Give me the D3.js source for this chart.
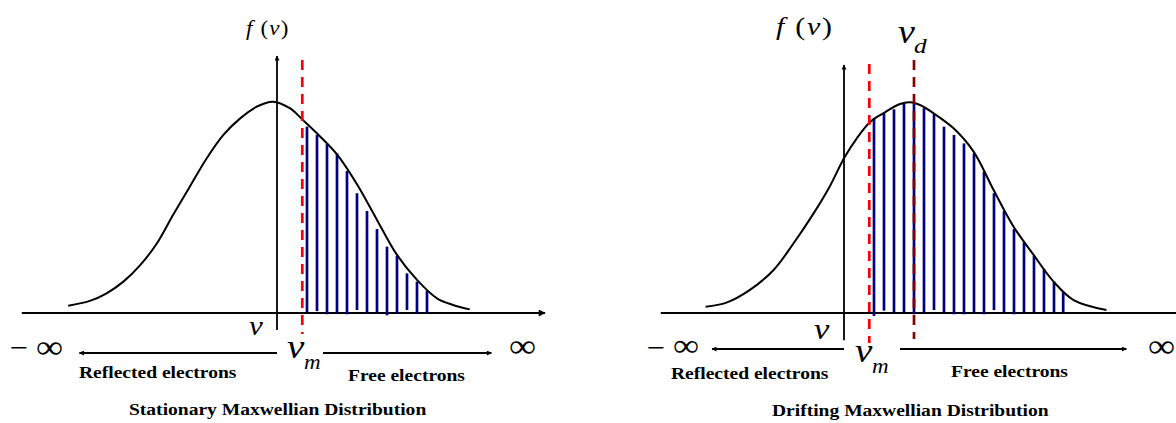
<!DOCTYPE html>
<html>
<head>
<meta charset="utf-8">
<script src="https://cdn.jsdelivr.net/npm/d3@7"></script>
<style>
  html, body { margin: 0; padding: 0; background: #fff; }
  svg { display: block; }
</style>
</head>
<body>
<svg id="chart" width="1176" height="423"></svg>
<script>
// ---- Stationary Maxwellian: sampled curve f(v) (peak normalised to 1) ----
const stationaryV = [-2.61, -2.34, -2.13, -1.92, -1.71, -1.50, -1.30, -1.09, -0.88, -0.67, -0.46, -0.25, -0.05, 0.16, 0.32, 0.52, 0.75, 1.00, 1.25, 1.50, 1.75, 2.00, 2.20, 2.41];
const stationaryF = [0.034, 0.057, 0.093, 0.148, 0.226, 0.329, 0.462, 0.596, 0.729, 0.840, 0.918, 0.974, 0.997, 0.966, 0.912, 0.840, 0.748, 0.607, 0.439, 0.274, 0.156, 0.069, 0.038, 0.017];
// hatched strips for the free electrons (v > v_m)
const stationaryHatchV    = [0.375, 0.5, 0.625, 0.75, 0.875, 1.0, 1.125, 1.25, 1.375, 1.5, 1.625, 1.75, 1.875];
const stationaryHatchTop  = [0.879, 0.840, 0.796, 0.753, 0.670, 0.565, 0.481, 0.396, 0.313, 0.270, 0.187, 0.148, 0.105];
const stationaryHatchBase = [0.003, 0.009, -0.006, 0, -0.006, 0.014, 0, 0, -0.011, 0, 0.014, 0, 0];
const stationaryVm = 0.316;

// ---- Drifting Maxwellian: sampled curve f(v) ----
const driftingV = [-1.73, -1.47, -1.18, -0.88, -0.63, -0.38, -0.18, 0.00, 0.16, 0.33, 0.49, 0.70, 0.83, 0.95, 1.12, 1.37, 1.62, 1.87, 2.12, 2.37, 2.62, 2.87, 3.28];
const driftingF = [0.030, 0.049, 0.108, 0.203, 0.329, 0.470, 0.596, 0.730, 0.824, 0.902, 0.942, 0.986, 0.994, 0.981, 0.942, 0.871, 0.761, 0.580, 0.407, 0.274, 0.148, 0.061, 0.014];
const driftingHatchV    = [0.375, 0.5, 0.625, 0.75, 0.875, 1.0, 1.125, 1.25, 1.375, 1.5, 1.625, 1.75, 1.875, 2.0, 2.125, 2.25, 2.375, 2.5, 2.625, 2.74];
const driftingHatchTop  = [0.918, 0.942, 0.961, 0.986, 0.986, 0.966, 0.942, 0.879, 0.840, 0.800, 0.753, 0.667, 0.565, 0.481, 0.396, 0.333, 0.270, 0.208, 0.148, 0.100];
const driftingHatchBase = [-0.014, 0.011, 0.003, 0.003, -0.006, 0.003, 0.014, 0.003, -0.006, -0.006, 0.003, -0.006, 0.014, 0.003, -0.006, 0.003, 0.003, 0.003, 0.003, 0.003];
const driftingVm = 0.316;
const driftingVd = 0.875;

// ---- text ----
const panelTitles = ["Stationary Maxwellian Distribution", "Drifting Maxwellian Distribution"];
const regionLabels = ["Reflected electrons", "Free electrons"];

const svg = d3.select("#chart");
const SERIF = "'Liberation Serif', 'Times New Roman', serif";
const STRETCH = 1.15;   // text is set slightly wide

// arrowheads
const defs = svg.append("defs");
function marker(id, w, h) {
  defs.append("marker")
    .attr("id", id)
    .attr("viewBox", "0 0 10 10")
    .attr("refX", 9).attr("refY", 5)
    .attr("markerUnits", "userSpaceOnUse")
    .attr("markerWidth", w).attr("markerHeight", h)
    .attr("orient", "auto-start-reverse")
    .append("path").attr("d", "M0,0 L10,5 L0,10 Z").attr("fill", "#000");
}
marker("arrowAxis", 9, 7);
marker("arrowSmall", 7, 5);

const y = d3.scaleLinear().domain([0, 1]).range([313, 101]);
const UNIT = 80; // px per unit of v

// one piece of text made of runs {t, i (italic)}
function label(g, x, yy, runs, opts = {}) {
  const t = g.append("text")
    .attr("transform", `translate(${x},${yy}) scale(${STRETCH},1)`)
    .attr("font-family", SERIF)
    .attr("font-size", opts.size || 17)
    .attr("font-weight", opts.bold ? "bold" : "normal")
    .attr("fill", "#000");
  if (opts.spacing) t.attr("letter-spacing", opts.spacing);
  runs.forEach(r => {
    const s = t.append("tspan").text(r.t);
    if (r.i) s.attr("font-style", "italic");
  });
  return t;
}

function drawPanel(cfg) {
  const g = svg.append("g");
  const x = d3.scaleLinear().domain([0, 1]).range([cfg.originX, cfg.originX + UNIT]);

  // horizontal v axis
  g.append("line")
    .attr("x1", x(cfg.axisFrom)).attr("x2", x(cfg.axisTo))
    .attr("y1", y(0)).attr("y2", y(0))
    .attr("stroke", "#000").attr("stroke-width", 2)
    .attr("marker-end", "url(#arrowAxis)");

  // vertical f(v) axis
  g.append("line")
    .attr("x1", x(0)).attr("x2", x(0))
    .attr("y1", y(cfg.fAxisBottom)).attr("y2", y(cfg.fAxisTop))
    .attr("stroke", "#000").attr("stroke-width", 1.8)
    .attr("marker-end", "url(#arrowSmall)");

  // hatching of the free-electron part
  g.selectAll("line.hatch")
    .data(cfg.hatchV.map((v, i) => ({ v, top: cfg.hatchTop[i], base: cfg.hatchBase[i] })))
    .join("line").attr("class", "hatch")
    .attr("x1", d => x(d.v)).attr("x2", d => x(d.v))
    .attr("y1", d => y(d.base)).attr("y2", d => y(d.top))
    .attr("stroke", "#000080").attr("stroke-width", 2.7);

  // distribution curve
  const pts = cfg.curveV.map((v, i) => [v, cfg.curveF[i]]);
  g.append("path")
    .datum(pts)
    .attr("d", d3.line().x(d => x(d[0])).y(d => y(d[1])).curve(d3.curveCatmullRom.alpha(0.5)))
    .attr("fill", "none").attr("stroke", "#000").attr("stroke-width", 2);

  // v_m (and v_d) dashed markers
  cfg.dashes.forEach(dm => {
    g.append("line")
      .attr("x1", x(dm.v)).attr("x2", x(dm.v))
      .attr("y1", dm.top).attr("y2", dm.bottom)
      .attr("stroke", dm.color).attr("stroke-width", 2.7)
      .attr("stroke-dasharray", "10,7");
  });

  // direction arrows below the axis
  const ay = cfg.arrowY;
  g.append("line")
    .attr("x1", x(0)).attr("x2", x(cfg.leftArrowTip))
    .attr("y1", ay).attr("y2", ay)
    .attr("stroke", "#000").attr("stroke-width", 1.8)
    .attr("marker-end", "url(#arrowSmall)");
  g.append("line")
    .attr("x1", x(cfg.rightArrowFrom)).attr("x2", x(cfg.rightArrowTip))
    .attr("y1", ay).attr("y2", ay)
    .attr("stroke", "#000").attr("stroke-width", 1.8)
    .attr("marker-end", "url(#arrowSmall)");

  const L = cfg.text;
  label(g, L.fv[0], L.fv[1], [{ t: "f", i: true }, { t: " (" }, { t: "v", i: true }, { t: ")" }], { size: L.fv[2], spacing: L.fv[3] });
  label(g, L.v[0], L.v[1], [{ t: "v", i: true }], { size: L.v[2] });
  label(g, L.vm[0], L.vm[1], [{ t: "v", i: true }], { size: L.vm[2] });
  label(g, L.m[0], L.m[1], [{ t: "m", i: true }], { size: L.m[2] });
  if (L.vd) {
    label(g, L.vd[0], L.vd[1], [{ t: "v", i: true }], { size: L.vd[2] });
    label(g, L.d[0], L.d[1], [{ t: "d", i: true }], { size: L.d[2] });
  }
  label(g, L.minus[0], L.minus[1], [{ t: "\u2212" }], { size: L.minus[2] });
  label(g, L.infL[0], L.infL[1], [{ t: "\u221E" }], { size: L.infL[2] });
  label(g, L.infR[0], L.infR[1], [{ t: "\u221E" }], { size: L.infR[2] });
  label(g, L.refl[0], L.refl[1], [{ t: regionLabels[0] }], { bold: true, size: 17 });
  label(g, L.free[0], L.free[1], [{ t: regionLabels[1] }], { bold: true, size: 17 });
  label(g, L.title[0], L.title[1], [{ t: cfg.title }], { bold: true, size: 17 });
}

drawPanel({
  originX: 277,
  axisFrom: -3.19, axisTo: 3.35,
  fAxisBottom: -0.08, fAxisTop: 1.212,
  curveV: stationaryV, curveF: stationaryF,
  hatchV: stationaryHatchV, hatchTop: stationaryHatchTop, hatchBase: stationaryHatchBase,
  dashes: [{ v: stationaryVm, top: 60, bottom: 334, color: "#ff0000" }],
  arrowY: 353, leftArrowTip: -2.47, rightArrowFrom: 0.575, rightArrowTip: 2.68,
  title: panelTitles[0],
  text: {
    fv: [246, 35, 20, 1], v: [249, 335, 27], vm: [287, 358, 34], m: [304, 369, 20],
    minus: [10, 357, 28], infL: [36, 357.5, 33], infR: [509, 357, 33],
    refl: [79, 378], free: [348, 381], title: [129, 415]
  }
});

drawPanel({
  originX: 844,
  axisFrom: -2.29, axisTo: 4.35,
  fAxisBottom: -0.128, fAxisTop: 1.17,
  curveV: driftingV, curveF: driftingF,
  hatchV: driftingHatchV, hatchTop: driftingHatchTop, hatchBase: driftingHatchBase,
  dashes: [
    { v: driftingVm, top: 64, bottom: 343, color: "#ff0000" },
    { v: driftingVd, top: 60, bottom: 339, color: "#880000" }
  ],
  arrowY: 349, leftArrowTip: -1.65, rightArrowFrom: 0.7, rightArrowTip: 3.53,
  title: panelTitles[1],
  text: {
    fv: [776, 35, 26, 1.5], v: [814, 339, 30], vm: [855, 362, 34], m: [872, 373, 20],
    vd: [898, 43, 33], d: [914, 53, 22],
    minus: [647, 357, 28], infL: [673, 355.5, 32], infR: [1148, 357, 33],
    refl: [671, 378.5], free: [951, 377], title: [772, 416]
  }
});
</script>
</body>
</html>
